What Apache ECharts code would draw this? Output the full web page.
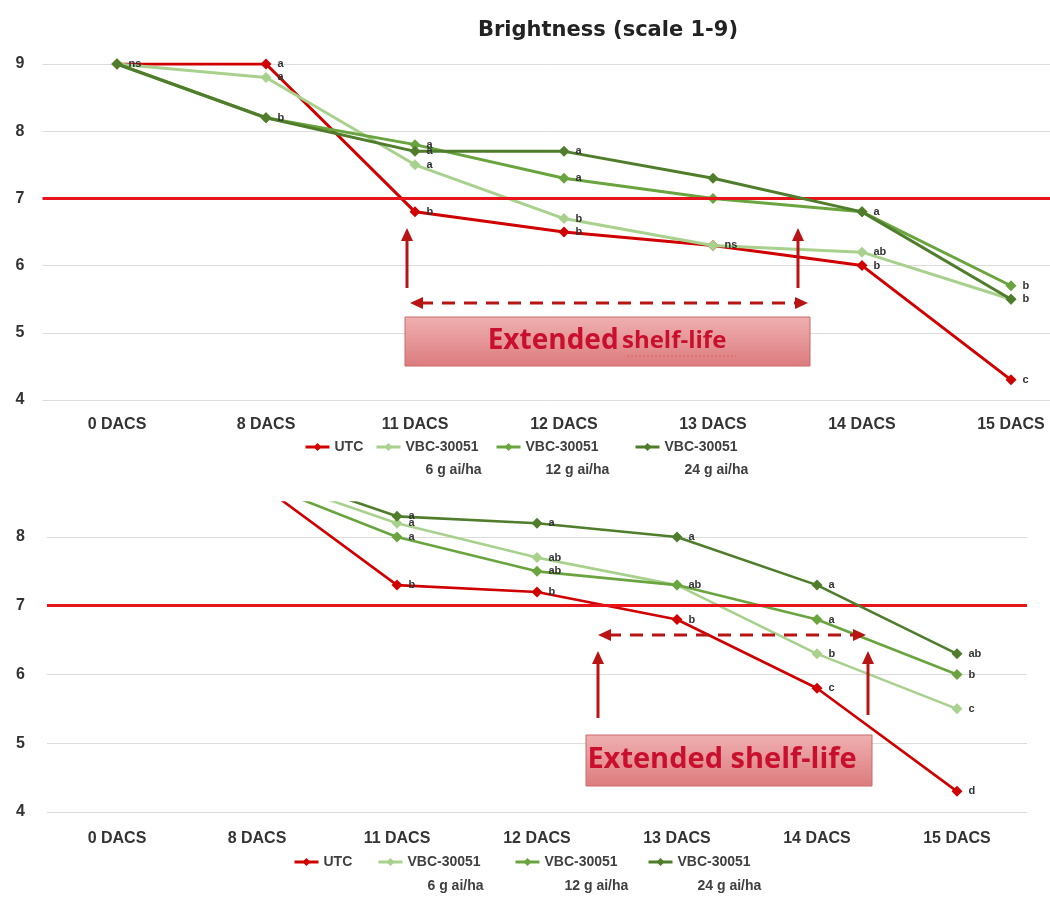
<!DOCTYPE html>
<html><head><meta charset="utf-8">
<script src="https://cdn.jsdelivr.net/npm/echarts@6/dist/echarts.min.js"></script>
<style>html,body{margin:0;padding:0;background:#fff}#c{width:1050px;height:908px}</style>
</head><body><div id="c"></div>
<script>
const categories = ['0 DACS', '8 DACS', '11 DACS', '12 DACS', '13 DACS', '14 DACS', '15 DACS'];
const seriesNames = ['UTC', 'VBC-30051 6 g ai/ha', 'VBC-30051 12 g ai/ha', 'VBC-30051 24 g ai/ha'];
const threshold = 7;
const yTicksTop = [4, 9];
const yTicksBottom = [4, 8.5];

// Top chart
const topUTC = [9, 9, 6.8, 6.5, 6.3, 6.0, 4.3];
const top6g = [9, 8.8, 7.5, 6.7, 6.3, 6.2, 5.5];
const top12g = [9, 8.2, 7.8, 7.3, 7.0, 6.8, 5.7];
const top24g = [9, 8.2, 7.7, 7.7, 7.3, 6.8, 5.5];
const topUTCLabels = ['', 'a', 'b', 'b', '', 'b', 'c'];
const top6gLabels = ['', 'a', 'a', 'b', 'ns', 'ab', ''];
const top12gLabels = ['', '', 'a', 'a', '', '', 'b'];
const top24gLabels = ['ns', 'b', 'a', 'a', '', 'a', 'b'];

// Bottom chart
const botUTC = [9, 8.8, 7.3, 7.2, 6.8, 5.8, 4.3];
const bot6g = [9, 8.9, 8.2, 7.7, 7.3, 6.3, 5.5];
const bot12g = [9, 8.8, 8.0, 7.5, 7.3, 6.8, 6.0];
const bot24g = [9, 9.0, 8.3, 8.2, 8.0, 7.3, 6.3];
const botUTCLabels = ['', '', 'b', 'b', 'b', 'c', 'd'];
const bot6gLabels = ['', '', 'a', 'ab', '', 'b', 'c'];
const bot12gLabels = ['', '', 'a', 'ab', 'ab', 'a', 'b'];
const bot24gLabels = ['', '', 'a', 'a', 'a', 'a', 'ab'];

const colors = ['#d00000', '#a9d18e', '#6aa43e', '#4f7d2b'];
const FONT = '"Liberation Sans", Arial, sans-serif';

function mkSeries(i, g, values, labels, withThreshold) {
  const s = {
    name: seriesNames[i], type: 'line', xAxisIndex: g, yAxisIndex: g,
    data: values.map((v, k) => ({ value: v, label: { formatter: labels[k] } })),
    symbol: 'diamond', symbolSize: 11, color: colors[i],
    lineStyle: { width: g === 0 ? 3 : 2.6, color: colors[i] },
    itemStyle: { color: colors[i] },
    label: { show: true, position: 'right', distance: 6, fontSize: 11, fontWeight: 'bold', color: '#333', fontFamily: FONT },
    z: 2 + i, animation: false
  };
  if (withThreshold) {
    s.markLine = { silent: true, symbol: 'none', label: { show: false }, animation: false,
      lineStyle: { color: '#e8141b', width: 3, type: 'solid' }, data: [{ yAxis: threshold }] };
  }
  return s;
}

const series = [
  mkSeries(0, 0, topUTC, topUTCLabels, true),
  mkSeries(1, 0, top6g, top6gLabels),
  mkSeries(2, 0, top12g, top12gLabels),
  mkSeries(3, 0, top24g, top24gLabels),
  mkSeries(0, 1, botUTC, botUTCLabels, true),
  mkSeries(1, 1, bot6g, bot6gLabels),
  mkSeries(2, 1, bot12g, bot12gLabels),
  mkSeries(3, 1, bot24g, bot24gLabels)
];

function legendFmt(name) {
  if (name === 'UTC') return '{e| }\n{a|UTC}\n{e| }';
  const parts = name.split(' ');
  return '{e| }\n{a|' + parts[0] + '}\n{b|' + parts.slice(1).join(' ') + '}';
}
function mkLegend(i, left, top, lh) {
  return {
    data: [seriesNames[i]], left: left, top: top, padding: 0, itemWidth: 24, itemHeight: 10,
    selectedMode: false, formatter: legendFmt,
    lineStyle: { width: 3 },
    textStyle: { fontFamily: FONT, fontWeight: 'bold', fontSize: 14, color: '#404040', lineHeight: lh,
      rich: { e: { lineHeight: lh, fontSize: 14 }, a: { lineHeight: lh, fontSize: 14, fontWeight: 'bold', color: '#404040', fontFamily: FONT },
              b: { lineHeight: lh, fontSize: 14, fontWeight: 'bold', color: '#404040', fontFamily: FONT, padding: [0, 0, 0, 20] } } }
  };
}
const legends = [
  mkLegend(0, 304, 447 - 34.5, 23), mkLegend(1, 375, 447 - 34.5, 23), mkLegend(2, 495, 447 - 34.5, 23), mkLegend(3, 634, 447 - 34.5, 23),
  mkLegend(0, 293, 862 - 36, 24), mkLegend(1, 377, 862 - 36, 24), mkLegend(2, 514, 862 - 36, 24), mkLegend(3, 647, 862 - 36, 24)
];

const DR = '#b81414';
const BOXFONT = '"Open Sans", sans-serif';
function upArrow(x, tip, base) {
  return [
    { type: 'line', shape: { x1: x, y1: tip + 10, x2: x, y2: base }, style: { stroke: DR, lineWidth: 3 }, z: 20 },
    { type: 'polygon', shape: { points: [[x, tip], [x - 6, tip + 13], [x + 6, tip + 13]] }, style: { fill: DR }, z: 20 }
  ];
}
function dashArrow(x1, x2, y) {
  return [
    { type: 'line', shape: { x1: x1 + 10, y1: y, x2: x2 - 10, y2: y }, style: { stroke: DR, lineWidth: 3, lineDash: [13, 9] }, z: 20 },
    { type: 'polygon', shape: { points: [[x1, y], [x1 + 13, y - 6], [x1 + 13, y + 6]] }, style: { fill: DR }, z: 20 },
    { type: 'polygon', shape: { points: [[x2, y], [x2 - 13, y - 6], [x2 - 13, y + 6]] }, style: { fill: DR }, z: 20 }
  ];
}
function box(x, y, w, h) {
  return { type: 'rect', shape: { x: x, y: y, width: w, height: h },
    style: { fill: new echarts.graphic.LinearGradient(0, 0, 0, 1, [{ offset: 0, color: '#efb0b0' }, { offset: 1, color: '#dc7b7e' }]),
      stroke: '#c96a6a', lineWidth: 1 }, z: 20 };
}

const graphic = [].concat(
  upArrow(407, 228, 288), upArrow(798, 228, 288), dashArrow(410, 808, 303),
  [box(405, 317, 405, 49),
   { type: 'text', x: 607, y: 341, z: 21, style: { text: '{a|Extended} {b|shelf-life}', align: 'center', verticalAlign: 'middle',
      rich: { a: { fontFamily: BOXFONT, fontWeight: 'bold', fontSize: 28, fill: '#c8102e' },
              b: { fontFamily: BOXFONT, fontWeight: 'bold', fontSize: 24, fill: '#c8102e' } } } },
   { type: 'line', shape: { x1: 627, y1: 356, x2: 736, y2: 356 }, style: { stroke: '#e05a5a', lineWidth: 1.2, lineDash: [2, 2] }, z: 21 }],
  upArrow(598, 651, 718), upArrow(868, 651, 715), dashArrow(598, 866, 635),
  [box(586, 735, 286, 51),
   { type: 'text', x: 722, y: 760, z: 21, style: { text: 'Extended shelf-life', align: 'center', verticalAlign: 'middle',
      fontFamily: BOXFONT, fontWeight: 'bold', fontSize: 29, fill: '#c8102e' } }]
);

const axisLabelStyle = { fontFamily: FONT, fontWeight: 'bold', fontSize: 16, color: '#333' };

const option = {
  animation: false,
  title: { text: 'Brightness (scale 1-9)', left: 603, top: 15, textAlign: 'center',
    textStyle: { fontFamily: '"DejaVu Sans", sans-serif', fontWeight: 'bold', fontSize: 21, color: '#222' } },
  legend: legends,
  grid: [
    { left: 42.5, width: 1043, top: 64, height: 336, outerBoundsMode: 'none', containLabel: false },
    { left: 47, width: 980, top: 502.6, height: 309.4, outerBoundsMode: 'none', containLabel: false }
  ],
  xAxis: [0, 1].map(g => ({
    type: 'category', gridIndex: g, data: categories, boundaryGap: true,
    axisLine: { show: false }, axisTick: { show: false },
    axisLabel: Object.assign({ margin: g === 0 ? 17 : 19 }, axisLabelStyle)
  })),
  yAxis: [
    { type: 'value', gridIndex: 0, min: yTicksTop[0], max: yTicksTop[1], interval: 1,
      axisLine: { show: false }, axisTick: { show: false },
      axisLabel: Object.assign({ margin: 18 }, axisLabelStyle),
      splitLine: { lineStyle: { color: '#dcdcdc', width: 1 } } },
    { type: 'value', gridIndex: 1, min: yTicksBottom[0], max: yTicksBottom[1], interval: 1,
      axisLine: { show: false }, axisTick: { show: false },
      axisLabel: Object.assign({ margin: 22, showMaxLabel: false }, axisLabelStyle),
      splitLine: { lineStyle: { color: ['#dcdcdc', '#dcdcdc', '#dcdcdc', '#dcdcdc', '#dcdcdc', 'rgba(0,0,0,0)'], width: 1 } } }
  ],
  series: series,
  graphic: graphic
};
const chart = echarts.init(document.getElementById('c'), null, { renderer: 'canvas' });
chart.setOption(option);
</script></body></html>
